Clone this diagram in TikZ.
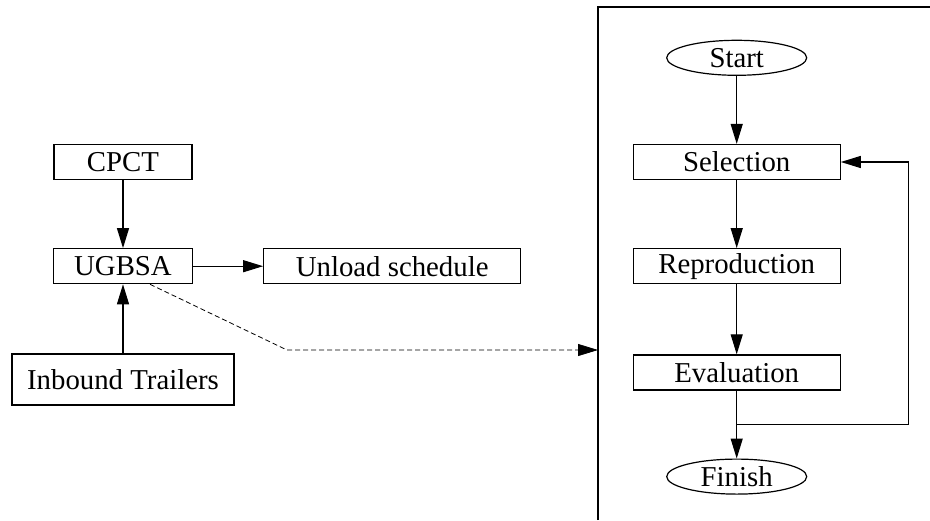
\documentclass[tikz,border=0pt]{standalone}
\usepackage{fontspec}
\setmainfont{Liberation Serif}
\usetikzlibrary{shapes,arrows.meta,positioning}
\tikzstyle{proc} = [rectangle, draw, line width=0.6pt, inner sep=0pt, minimum height=17.5pt, text centered, font=\fontsize{14.4}{17}\selectfont]
\tikzstyle{term} = [ellipse, draw, line width=0.6pt, inner sep=0pt, minimum width=70pt, minimum height=17.5pt, text centered, font=\fontsize{14.4}{17}\selectfont]
\tikzstyle{tedge}  = [draw, line width=0.6pt, >={Triangle[length=10pt,width=6pt]}, ->]

\begin{document}
\begin{tikzpicture}

\useasboundingbox (-61.5pt,-179pt) rectangle (403.5pt,81pt);

% scheduler side =============================

% nodes
\node[proc, minimum width=69pt] (CPCT) {CPCT};
\node[proc, minimum width=69.5pt, below=34pt of CPCT] (UGBSA) {UGBSA};
\node[proc, minimum width=111pt, minimum height=25.5pt, below=34.5pt of UGBSA] (trailers) {Inbound Trailers};
\node[proc, minimum width=128.5pt, right=35pt of UGBSA] (unload) {Unload schedule};

% edges
\path[tedge] (CPCT) -- (UGBSA);
\path[tedge] (trailers) -- (UGBSA);
\path[tedge] (UGBSA) -- (unload);

% algorithm side =============================

% frame
\coordinate (frame) at (237.5pt,77.5pt);
\draw[line width=0.7pt] (237.5pt,-179pt) -- (frame) -- (403.5pt,77.5pt);

% nodes
\node[proc, minimum width=103.5pt, right=220pt of CPCT] (sel) {Selection};
\node[term, above=34pt of sel] (start) {Start};
\node[proc, minimum width=103.5pt, below=34pt of sel] (repro) {Reproduction};
\node[proc, minimum width=103.5pt, below=35pt of repro] (eval) {Evaluation};
\node[term, below=34pt of eval] (finish) {Finish};

% edges
\path[tedge] (start) -- (sel);
\path[tedge] (sel) -- (repro);
\path[tedge] (repro) -- (eval);
\path[tedge] (eval) -- coordinate (split) (finish);
\path[tedge] (split) -- ++(86pt,0) |- (sel);

% link
\coordinate (bend) at (82pt,-94pt);
\path[tedge, line width=0.4pt, dash pattern=on 2.5pt off 1.5pt] ([xshift=13.5pt]UGBSA.south) -- (bend) -- (bend -| frame);

\end{tikzpicture}
\end{document}
